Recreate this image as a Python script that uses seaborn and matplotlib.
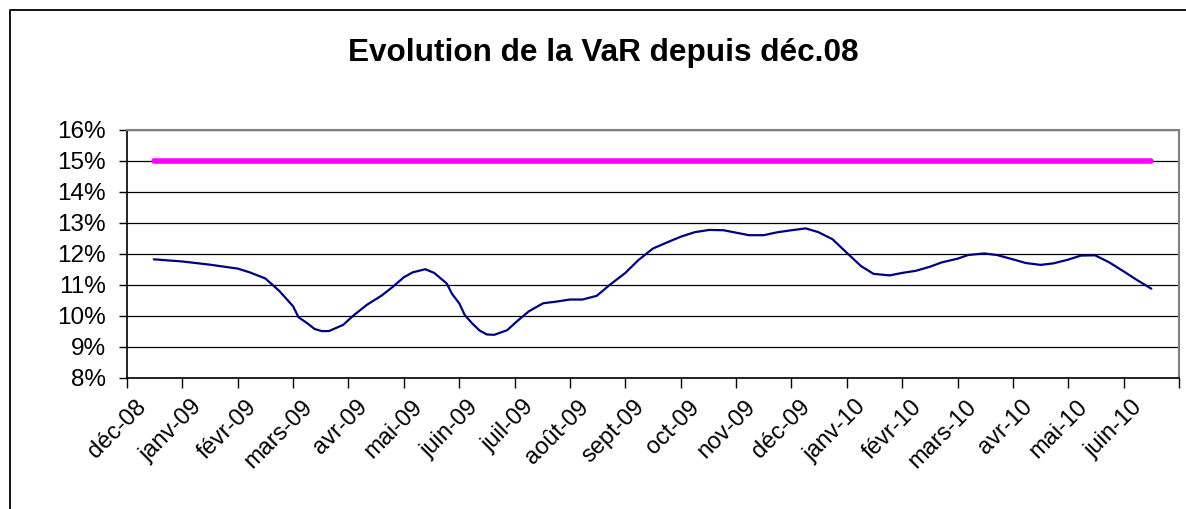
import matplotlib
matplotlib.use("Agg")
import matplotlib.pyplot as plt
import matplotlib.ticker as mticker
import matplotlib.transforms as mtransforms
from matplotlib.lines import Line2D
import pandas as pd
import seaborn as sns

# Weekly-ish VaR readings (in %)
dates = [
    "2008-12-16", "2009-01-01", "2009-01-16", "2009-02-01", "2009-02-07",
    "2009-02-15", "2009-02-22", "2009-03-01", "2009-03-04", "2009-03-09",
    "2009-03-13", "2009-03-17", "2009-03-21", "2009-03-29", "2009-04-04",
    "2009-04-11", "2009-04-19", "2009-04-25", "2009-05-01", "2009-05-06",
    "2009-05-13", "2009-05-18", "2009-05-25", "2009-05-28", "2009-06-01",
    "2009-06-04", "2009-06-08", "2009-06-12", "2009-06-16", "2009-06-20",
    "2009-06-27", "2009-07-03", "2009-07-09", "2009-07-17", "2009-07-24",
    "2009-08-01", "2009-08-08", "2009-08-16", "2009-08-23", "2009-09-01",
    "2009-09-08", "2009-09-13", "2009-09-16", "2009-09-23", "2009-10-01",
    "2009-10-09", "2009-10-17", "2009-10-25", "2009-11-02", "2009-11-08",
    "2009-11-16", "2009-11-23", "2009-12-01", "2009-12-09", "2009-12-16",
    "2009-12-24", "2010-01-01", "2010-01-09", "2010-01-16", "2010-01-25",
    "2010-02-01", "2010-02-08", "2010-02-15", "2010-02-21", "2010-03-01",
    "2010-03-07", "2010-03-16", "2010-03-23", "2010-04-01", "2010-04-08",
    "2010-04-16", "2010-04-23", "2010-05-01", "2010-05-08", "2010-05-16",
    "2010-05-24", "2010-06-01", "2010-06-08", "2010-06-16",
]
var_pct = [
    11.82, 11.75, 11.65, 11.52, 11.40,
    11.20, 10.80, 10.30, 9.95, 9.75,
    9.57, 9.50, 9.50, 9.70, 10.02,
    10.35, 10.65, 10.93, 11.24, 11.40,
    11.50, 11.38, 11.04, 10.70, 10.40,
    10.02, 9.75, 9.52, 9.39, 9.38,
    9.53, 9.85, 10.14, 10.40, 10.45,
    10.52, 10.52, 10.64, 10.98, 11.38,
    11.79, 12.03, 12.17, 12.35, 12.55,
    12.70, 12.77, 12.76, 12.67, 12.60,
    12.60, 12.69, 12.76, 12.82, 12.70,
    12.47, 12.03, 11.60, 11.35, 11.30,
    11.38, 11.45, 11.58, 11.72, 11.84,
    11.96, 12.01, 11.96, 11.82, 11.70,
    11.64, 11.69, 11.81, 11.94, 11.95,
    11.72, 11.43, 11.16, 10.87,
]
limit_pct = 15

month_labels = [
    "déc-08", "janv-09", "févr-09", "mars-09", "avr-09", "mai-09", "juin-09",
    "juil-09", "août-09", "sept-09", "oct-09", "nov-09", "déc-09", "janv-10",
    "févr-10", "mars-10", "avr-10", "mai-10", "juin-10",
]

df = pd.DataFrame({"date": pd.to_datetime(dates), "var": var_pct})
# position in months since 1 Dec 2008 (Excel draws months evenly spaced)
d = df["date"].dt
df["pos"] = (d.year - 2008) * 12 + d.month - 12 + (d.day - 1) / d.days_in_month
limit = pd.DataFrame({"pos": [df["pos"].min(), df["pos"].max()],
                      "var": [limit_pct, limit_pct]})

sns.set_style("white")
plt.rcParams["font.family"] = ["Liberation Sans", "DejaVu Sans"]
plt.rcParams["text.color"] = "black"
plt.rcParams["xtick.color"] = "black"
plt.rcParams["ytick.color"] = "black"

fig = plt.figure(figsize=(11.86, 5.09), dpi=100)
ax = fig.add_axes([127 / 1186, 1 - 377.5 / 509, (1179 - 127) / 1186, (377.5 - 130) / 509])

sns.lineplot(data=limit, x="pos", y="var", color="#FF00FF", lw=4,
             solid_capstyle="round", ax=ax, zorder=3)
sns.lineplot(data=df, x="pos", y="var", color="#000080", lw=1.6,
             sort=False, ax=ax, zorder=4)

ax.set_ylim(8, 16)
ax.set_xlim(0, len(month_labels))
ax.yaxis.set_major_locator(mticker.MultipleLocator(1))
ax.yaxis.set_major_formatter(mticker.FormatStrFormatter("%d%%"))
ax.grid(axis="y", color="black", lw=0.9)
ax.set_axisbelow(True)

ax.set_xticks(range(len(month_labels) + 1))
ax.set_xticklabels(month_labels + [""], rotation=45, ha="right", va="top",
                   rotation_mode="anchor", fontsize=17)
ax.tick_params(axis="x", direction="out", length=7, width=1,
               bottom=True, pad=10)
ax.tick_params(axis="y", direction="out", length=6, width=1,
               left=True, labelsize=17.5, pad=9)
ax.set_xlabel("")
ax.set_ylabel("")

# nudge rotated month labels the way Excel places them
shift = mtransforms.ScaledTranslation(8 / 100, 5 / 100, fig.dpi_scale_trans)
for lab in ax.get_xticklabels():
    lab.set_transform(lab.get_transform() + shift)

for side in ["top", "right"]:
    ax.spines[side].set_color("#808080")
    ax.spines[side].set_linewidth(1.5)
for side in ["left", "bottom"]:
    ax.spines[side].set_color("black")
    ax.spines[side].set_linewidth(1.2)

fig.text(0.509, 0.896, "Evolution de la VaR depuis déc.08", ha="center",
         va="center", fontsize=22.7, fontweight="bold", color="black")

# outer chart frame (left and top edges visible)
fig.add_artist(Line2D([10 / 1186, 10 / 1186, 1.0], [0.0, 1 - 10 / 509, 1 - 10 / 509],
                      transform=fig.transFigure, color="black", lw=1.3))

fig.savefig("out.png", dpi=100)
